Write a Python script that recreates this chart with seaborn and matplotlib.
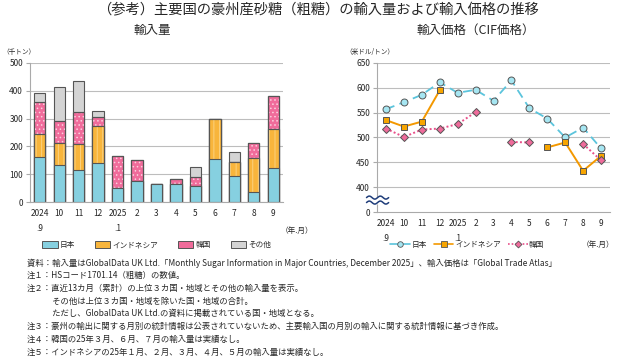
import numpy as np
import pandas as pd
import matplotlib
matplotlib.use("Agg")
import matplotlib.pyplot as plt
import seaborn as sns
from matplotlib.patches import Patch
from matplotlib.lines import Line2D

sns.set_style("white")
plt.rcParams['font.family'] = ['Noto Sans CJK JP', 'DejaVu Sans']
plt.rcParams['hatch.linewidth'] = 0.6

# ---------------- data ----------------
months = ["2024\n.9", "10", "11", "12", "2025\n.1", "2", "3", "4", "5", "6", "7", "8", "9"]
# import volume (thousand tonnes)
vol_japan = [161, 133, 115, 142, 49, 77, 66, 65, 59, 156, 93, 37, 123]
vol_indonesia = [85, 79, 93, 132, 0, 0, 0, 0, 0, 142, 52, 123, 139]
vol_korea = [115, 81, 117, 31, 117, 74, 0, 19, 30, 0, 0, 52, 118]
vol_other = [32, 122, 109, 23, 0, 0, 0, 0, 36, 0, 34, 2, 0]
# import price (USD / tonne)
price_japan = [557, 571, 586, 611, 590, 596, 574, 615, 559, 538, 500, 520, 478]
price_indonesia = [535, 522, 532, 595, np.nan, np.nan, np.nan, np.nan, np.nan, 480, 490, 433, 463]
price_korea = [518, 501, 516, 518, 527, 551, np.nan, 491, 490, np.nan, np.nan, 487, 454]

series_names = ["日本", "インドネシア", "韓国", "その他"]

c_jp, c_id, c_kr, c_ot = "#86d0e0", "#f8b53c", "#f06c9b", "#d4d4d4"
edge = "#555555"

fig = plt.figure(figsize=(6.4, 3.58), dpi=100)
ax1 = fig.add_axes([30/640, 1-202/358, 253/640, 139/358])
ax2 = fig.add_axes([377/640, 1-212/358, 233/640, 149/358])

# ---------------- left: stacked bars ----------------
df = pd.DataFrame({"month": months, "jp": vol_japan, "id": vol_indonesia,
                   "kr": vol_korea, "ot": vol_other})
df["c_jp"] = df["jp"]
df["c_id"] = df["c_jp"] + df["id"]
df["c_kr"] = df["c_id"] + df["kr"]
df["c_ot"] = df["c_kr"] + df["ot"]

layers = [("c_ot", c_ot, None, None), ("c_kr", c_kr, "....", "#fbd0de"),
          ("c_id", c_id, "|||", "#fcd68a"), ("c_jp", c_jp, None, None)]
for col, fc, hatch, hc in layers:
    sns.barplot(data=df, x="month", y=col, order=months, color=fc, saturation=1,
                width=0.58, edgecolor=edge, linewidth=0.8, ax=ax1, errorbar=None)
    if hatch:
        sns.barplot(data=df, x="month", y=col, order=months, facecolor="none",
                    width=0.58, edgecolor=hc, linewidth=0, hatch=hatch, ax=ax1,
                    errorbar=None)
        sns.barplot(data=df, x="month", y=col, order=months, facecolor="none",
                    width=0.58, edgecolor=edge, linewidth=0.8, ax=ax1, errorbar=None)

ax1.set_xlim(-0.5, 12.5)
ax1.set_ylim(0, 500)
ax1.set_yticks([0, 100, 200, 300, 400, 500])
ax1.yaxis.grid(True, color="#bdbdbd", linewidth=0.8)
ax1.set_axisbelow(True)
ax1.set_xlabel("")
ax1.set_ylabel("")

for ax in (ax1, ax2):
    for s in ("top", "right"):
        ax.spines[s].set_visible(False)
    ax.spines["left"].set_color("#aaaaaa")
    ax.spines["bottom"].set_color("#aaaaaa")
    ax.set_xticks(range(13))
    ax.set_xticklabels(months, fontsize=6, linespacing=1.9, va="top")
    ax.set_xticks(np.arange(-0.5, 13, 1), minor=True)
    ax.tick_params(axis="x", which="major", length=0, pad=5)
    ax.tick_params(axis="x", which="minor", length=3, color="#aaaaaa", direction="out")
    ax.tick_params(axis="y", length=3, color="#aaaaaa", labelsize=6, pad=2, left=True)

# ---------------- right: price lines ----------------
def runs(values):
    seg, out, prev = 0, [], False
    for v in values:
        ok = not np.isnan(v)
        if ok and not prev:
            seg += 1
        out.append(seg if ok else np.nan)
        prev = ok
    return out

pos = list(range(13))
line_specs = [
    (price_japan, "#5bc4dc", (5, 3), "o", "#a6e6f2", 1.3),
    (price_indonesia, "#f39800", "", "s", "#f7a500", 1.4),
    (price_korea, "#e8508a", (1, 1.2), "D", "#ef6b9b", 1.4),
]
for vals, col, dash, mk, mfc, lw in line_specs:
    d = pd.DataFrame({"x": pos, "y": vals, "seg": runs(vals)}).dropna()
    sns.lineplot(data=d, x="x", y="y", units="seg", estimator=None, color=col,
                 linewidth=lw, dashes=False, ax=ax2, legend=False, sort=False)
    ln_list = ax2.get_lines()
    for ln in ln_list[-d["seg"].nunique():]:
        if dash:
            ln.set_dashes(dash)
    ax2.plot(d["x"], d["y"], linestyle="none", marker=mk, markersize=5 if mk != "D" else 4.5,
             markerfacecolor=mfc, markeredgecolor="#555555", markeredgewidth=0.7, zorder=5)

ax2.set_xlim(-0.5, 12.5)
ax2.set_ylim(350, 650)
ax2.set_yticks([350, 400, 450, 500, 550, 600, 650])
ax2.set_yticklabels(["0", "400", "450", "500", "550", "600", "650"])
ax2.grid(False)
for v in [400, 450, 500, 550, 600, 650]:
    ax2.axhline(v, color="#bdbdbd", linewidth=0.8, zorder=0)
ax2.set_xlabel("")
ax2.set_ylabel("")

# axis-break symbol
tr = ax2.get_yaxis_transform()
xs = np.linspace(-0.045, 0.05, 60)
w1 = 379 + 3 * np.sin((xs + 0.045) / 0.095 * 4 * np.pi)
w2 = 369 + 3 * np.sin((xs + 0.045) / 0.095 * 4 * np.pi)
ax2.fill_between(xs, w2, w1, color="white", transform=tr, clip_on=False, zorder=6)
ax2.plot(xs, w1, color="#1f3d7a", linewidth=1.1, transform=tr, clip_on=False, zorder=7)
ax2.plot(xs, w2, color="#1f3d7a", linewidth=1.1, transform=tr, clip_on=False, zorder=7)

# ---------------- texts ----------------
fig.text(0.497, 0.972, "（参考）主要国の豪州産砂糖（粗糖）の輸入量および輸入価格の推移",
         ha="center", va="center", fontsize=10.3)
fig.text(0.238, 0.916, "輸入量", ha="center", va="center", fontsize=9)
fig.text(0.743, 0.916, "輸入価格（CIF価格）", ha="center", va="center", fontsize=9)
fig.text(0.004, 1-52/358, "（千トン）", ha="left", va="center", fontsize=4.8)
fig.text(345/640, 1-52/358, "（米ドル/トン）", ha="left", va="center", fontsize=4.8)
fig.text(313/640, 1-231/358, "（年.月）", ha="right", va="center", fontsize=5.5)
fig.text(614/640, 1-245/358, "（年.月）", ha="right", va="center", fontsize=5.5)

bar_handles = [Patch(facecolor=c_jp, edgecolor=edge, linewidth=0.7),
               Patch(facecolor=c_id, edgecolor=edge, linewidth=0.7),
               Patch(facecolor=c_kr, edgecolor=edge, linewidth=0.7),
               Patch(facecolor=c_ot, edgecolor=edge, linewidth=0.7)]
fig.legend(bar_handles, series_names, loc="center", bbox_to_anchor=(0.245, 1-245/358),
           ncol=4, frameon=False, fontsize=5.5, handlelength=2.0, handleheight=1.1,
           handletextpad=0.3, columnspacing=2.6)

line_handles = [
    Line2D([], [], color="#5bc4dc", linewidth=1.2, marker="o", markersize=4,
           markerfacecolor="#a6e6f2", markeredgecolor="#555555", markeredgewidth=0.6),
    Line2D([], [], color="#f39800", linewidth=1.2, marker="s", markersize=4,
           markerfacecolor="#f7a500", markeredgecolor="#555555", markeredgewidth=0.6),
    Line2D([], [], color="#e8508a", linewidth=1.2, linestyle=(0, (1, 1.2)), marker="D",
           markersize=3.5, markerfacecolor="#ef6b9b", markeredgecolor="#555555",
           markeredgewidth=0.6),
]
fig.legend(line_handles, series_names[:3], loc="center", bbox_to_anchor=(0.73, 1-245/358),
           ncol=3, frameon=False, fontsize=5.5, handlelength=2.6,
           handletextpad=0.2, columnspacing=0.9)

notes = [
    "資料：輸入量はGlobalData UK Ltd.「Monthly Sugar Information in Major Countries, December 2025」、輸入価格は「Global Trade Atlas」",
    "注１：HSコード1701.14（粗糖）の数値。",
    "注２：直近13カ月（累計）の上位３カ国・地域とその他の輸入量を表示。",
    "　　　その他は上位３カ国・地域を除いた国・地域の合計。",
    "　　　ただし、GlobalData UK Ltd.の資料に掲載されている国・地域となる。",
    "注３：豪州の輸出に関する月別の統計情報は公表されていないため、主要輸入国の月別の輸入に関する統計情報に基づき作成。",
    "注４：韓国の25年３月、６月、７月の輸入量は実績なし。",
    "注５：インドネシアの25年１月、２月、３月、４月、５月の輸入量は実績なし。",
]
for i, t in enumerate(notes):
    fig.text(27/640, 1-(263 + i*12.7)/358, t, ha="left", va="center", fontsize=6.0,
             family=["Liberation Sans Narrow", "Noto Sans CJK JP"])

fig.savefig("out.png", dpi=100)
